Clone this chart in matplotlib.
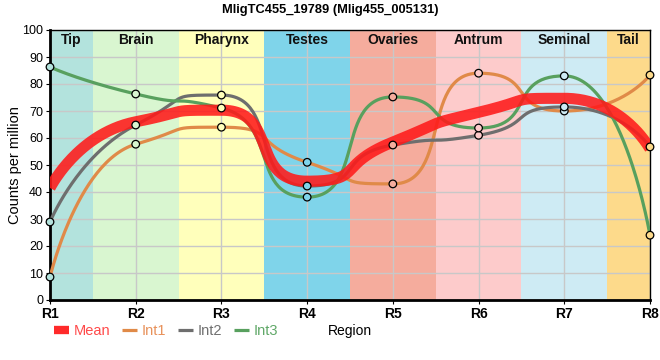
import numpy as np
import matplotlib
matplotlib.use('Agg')
import matplotlib.pyplot as plt
from matplotlib.lines import Line2D

plt.rcParams['font.family'] = ['Liberation Sans', 'DejaVu Sans']

regions = ['R1', 'R2', 'R3', 'R4', 'R5', 'R6', 'R7', 'R8']
mean = [41.5, 66, 70.3, 44, 58.5, 69.5, 74.7, 56]
int1 = [8.5, 57.7, 64, 51, 43, 84, 70, 83.3]
int2 = [28.9, 64.8, 75.9, 42.2, 57.4, 61, 71.5, 56.7]
int3 = [86.3, 76.3, 71.1, 38.1, 75.2, 63.7, 83, 24]

tissues = ['Tip', 'Brain', 'Pharynx', 'Testes', 'Ovaries', 'Antrum', 'Seminal', 'Tail']
tissue_colors = ['#b3e3dd', '#d9f6d0', '#ffffbb', '#7fd4ea', '#f5ac9d',
                 '#fdcbcb', '#ceebf4', '#fdda8b']


def spline(xs, ys, arm=0.68, n=60):
    """ bezier spline through the points, flat at local extremes,
    control points kept between the neighbouring values """
    xs = np.asarray(xs, float)
    ys = np.asarray(ys, float)
    k = len(xs)
    slope = np.zeros(k)
    for i in range(1, k - 1):
        a, b = ys[i] - ys[i - 1], ys[i + 1] - ys[i]
        if a * b > 0:
            m = (ys[i + 1] - ys[i - 1]) / (xs[i + 1] - xs[i - 1])
            lim = min(abs(a) / (arm * (xs[i] - xs[i - 1])),
                      abs(b) / (arm * (xs[i + 1] - xs[i])))
            slope[i] = np.sign(m) * min(abs(m), lim)
    px, py = [], []
    t = np.linspace(0, 1, n)
    for i in range(k - 1):
        h = xs[i + 1] - xs[i]
        a0 = 0 if i == 0 else arm * h
        a1 = 0 if i == k - 2 else arm * h
        p = [(xs[i], ys[i]),
             (xs[i] + a0, ys[i] + a0 * slope[i]),
             (xs[i + 1] - a1, ys[i + 1] - a1 * slope[i + 1]),
             (xs[i + 1], ys[i + 1])]
        w = [(1 - t)**3, 3 * (1 - t)**2 * t, 3 * (1 - t) * t**2, t**3]
        px.extend(sum(wj * pj[0] for wj, pj in zip(w, p)))
        py.extend(sum(wj * pj[1] for wj, pj in zip(w, p)))
    return np.array(px), np.array(py)


x = np.arange(1, len(regions) + 1)

fig = plt.figure(figsize=(6.6, 3.6), dpi=100)
ax = fig.add_axes([50 / 660, 60 / 360, 600 / 660, 270 / 360])

# tissue bands
for i, (name, col) in enumerate(zip(tissues, tissue_colors)):
    lo = max(x[i] - 0.5, x[0])
    hi = min(x[i] + 0.5, x[-1])
    ax.axvspan(lo, hi, color=col, zorder=0, lw=0)
    ax.text((lo + hi) / 2, 96.2, name, ha='center', va='center',
            fontsize=10, fontweight='bold', color='#111111', zorder=5)

ax.grid(True, color='#c8c8c8', lw=1, zorder=1)

series = [(int1, '#e08a48', 'Int1'), (int2, '#6e6e6e', 'Int2'), (int3, '#58a05e', 'Int3')]
for ys, col, lab in series:
    cx, cy = spline(x, ys)
    ax.plot(cx, cy, color=col, lw=2.3, zorder=3, solid_capstyle='butt')

mx, my = spline(x, mean)
ax.plot(mx, my, color='#ff1a1a', lw=8, alpha=0.88, zorder=4, solid_capstyle='butt')

for ys, col, lab in series:
    ax.scatter(x, ys, s=30, facecolors=tissue_colors, edgecolors='black', lw=0.9,
               zorder=6, clip_on=False)

ax.set_xlim(1, 8)
ax.set_ylim(0, 100)
ax.set_xticks(x)
ax.set_xticklabels(regions, fontsize=10, fontweight='bold')
ax.set_yticks(range(0, 101, 10))
ax.tick_params(axis='y', labelsize=9, length=3, pad=2)
ax.tick_params(axis='x', length=3, pad=2)
for sp in ['left', 'bottom']:
    ax.spines[sp].set_linewidth(2)
for sp in ['top', 'right']:
    ax.spines[sp].set_linewidth(1)
ax.set_ylabel('Counts per million', fontsize=10.5)
ax.yaxis.set_label_coords(-28 / 600, 0.5)

fig.suptitle('MligTC455_19789 (Mlig455_005131)', x=0.5, y=0.99, fontsize=9.3, fontweight='bold')

handles = [Line2D([], [], color='#ff2a2a', lw=6, solid_capstyle='butt'),
           Line2D([], [], color='#e08a48', lw=2.3, solid_capstyle='butt'),
           Line2D([], [], color='#6e6e6e', lw=2.3, solid_capstyle='butt'),
           Line2D([], [], color='#58a05e', lw=2.3, solid_capstyle='butt')]
leg = fig.legend(handles, ['Mean', 'Int1', 'Int2', 'Int3'], loc='center left',
                 bbox_to_anchor=(54 / 660, 1 - 331 / 360), ncol=4, frameon=False,
                 fontsize=10.5, handlelength=1.05, handletextpad=0.3, columnspacing=0.8,
                 borderpad=0, borderaxespad=0)
for txt, col in zip(leg.get_texts(), ['#ff4a4a', '#e8915a', '#707070', '#60a868']):
    txt.set_color(col)
fig.text(350 / 660, 1 - 331 / 360, 'Region', fontsize=10, va='center', ha='center')

plt.savefig('out.png', dpi=100)
